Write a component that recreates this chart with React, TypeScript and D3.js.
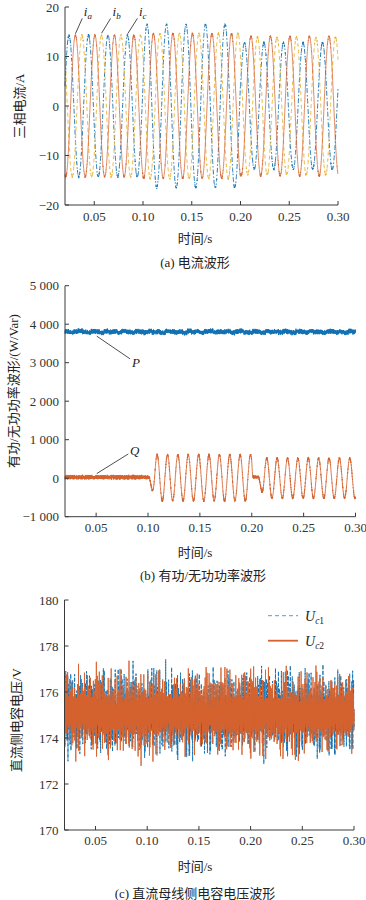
import React from "react";
import * as d3 from "d3";

// ---------- shared ----------
const T_START = 0.02;
const T_END = 0.3;
const X_TICKS = [0.05, 0.1, 0.15, 0.2, 0.25, 0.3];

// deterministic ripple tables (typed)
const RIPPLE_A = [0.42, -0.81, 0.13, 0.95, -0.37, -0.66, 0.58, 0.04, -0.92, 0.71, -0.18, 0.33, -0.55, 0.87, -0.02, -0.74, 0.49, 0.21, -0.63, 0.9, -0.29, 0.07, -0.97, 0.61, 0.36, -0.44, 0.15, -0.83, 0.76, -0.11, 0.52, -0.69, 0.28, 0.99, -0.51, 0.02, -0.24];
const RIPPLE_B = [-0.35, 0.78, -0.12, 0.56, -0.89, 0.23, 0.67, -0.48, 0.05, -0.71, 0.94, -0.26, 0.39, -0.58, 0.81, -0.07, -0.93, 0.47, 0.18, -0.64, 0.72, -0.31, 0.09, 0.86, -0.77, 0.25, -0.15, 0.63, -0.52, 0.98, -0.41, 0.11, -0.85, 0.54, 0.31, -0.68, 0.74, -0.03, -0.46, 0.89, -0.22, 0.16, -0.79, 0.61, -0.57, 0.37, 0.03, -0.95, 0.69, -0.19, 0.44, -0.62, 0.83];
const SPIKES = [0, 0, 0, 0, 1.2, 0, 0, 0, 0, 0, 0, -1.0, 0, 0, 0, 0, 0, 0, 0, 1.5, 0, 0, 0, 0, 0, -1.3, 0, 0, 0, 0, 0, 0, 0.8, 0, 0, 0, 0, 0, -0.7, 0, 0];

// ---------- (a) currents ----------
const I_TICKS = [-20, -10, 0, 10, 20];
const I_SEG = [0.02, 0.1, 0.2, 0.3];
const I_AMP_A = [14.3, 14.6, 14.1]; // i_a (orange, solid)
const I_AMP_B = [14.3, 14.7, 13.9]; // i_b (yellow, dashed)
const I_AMP_C = [14.3, 16.5, 12.8]; // i_c (blue, dash-dot)
const I_PEAK = [0.0307, 0.0374, 0.0241]; // time of first crest a,b,c
const GRID_HZ = 50;
const I_RIPPLE = 0.3;

// ---------- (b) P / Q ----------
const PQ_TICKS = [-1000, 0, 1000, 2000, 3000, 4000, 5000];
const P_LEVEL = 3800;
const P_RIPPLE = 75;
const P_WANDER = 25;
const Q_SEG = [0.02, 0.1, 0.2, 0.205, 0.3];
const Q_AMP = [0, 600, 0, 520];
const Q_PEAK = [0, 0.1088, 0, 0.2145];
const Q_RAMP = [0, 0.0075, 0, 0.007];
const Q_BIAS = [25, 10, 30, 0];
const Q_NOISE = [70, 40, 50, 40];
const Q_HZ = 100;

// ---------- (c) DC capacitor voltages ----------
const U_TICKS = [170, 172, 174, 176, 178, 180];
const U_LEVEL = 175;
const U_RIPPLE = 0.95;

const BLUE = "#1272b3";
const ORANGE = "#d5622f";
const YELLOW = "#e9b232";
const AXIS = "#3a3a3a";
const NUM_FONT = "'Times New Roman','Liberation Serif',serif";
const CJK_FONT = "'Times New Roman','Liberation Serif','Noto Sans CJK SC',serif";

const ripple = (i: number, k: number) =>
  0.55 * RIPPLE_A[(i + k) % RIPPLE_A.length] +
  0.45 * RIPPLE_B[(i * 3 + 2 * k) % RIPPLE_B.length];

const segOf = (bounds: number[], t: number) =>
  Math.max(0, Math.min(bounds.length - 2, d3.bisectRight(bounds, t) - 1));

const timesFine = d3.range(T_START, T_END + 1e-9, 0.0001);
const timesDense = d3.range(T_START, T_END + 1e-9, 0.00007);

function currentSeries(amps: number[], peak: number, k: number): [number, number][] {
  return timesFine.map((t, i) => {
    const s = segOf(I_SEG, t);
    return [t, amps[s] * Math.cos(2 * Math.PI * GRID_HZ * (t - peak)) + I_RIPPLE * ripple(i, k)];
  });
}

const iaData = currentSeries(I_AMP_A, I_PEAK[0], 3);
const ibData = currentSeries(I_AMP_B, I_PEAK[1], 17);
const icData = currentSeries(I_AMP_C, I_PEAK[2], 29);

const pData: [number, number][] = timesDense.map((t, i) => [
  t,
  P_LEVEL + P_RIPPLE * ripple(i, 5) + P_WANDER * RIPPLE_A[Math.floor(i / 60) % RIPPLE_A.length],
]);

const qData: [number, number][] = timesDense.map((t, i) => {
  const s = segOf(Q_SEG, t);
  const n = ripple(i, 13);
  let v: number;
  if (s === 0) v = Q_BIAS[0] + Q_NOISE[0] * n;
  else if (s === 1) {
    const env = Math.min(1, (t - Q_SEG[1]) / Q_RAMP[1]);
    v = env * Q_AMP[1] * Math.cos(2 * Math.PI * Q_HZ * (t - Q_PEAK[1])) + Q_BIAS[1] + Q_NOISE[1] * n;
  } else if (s === 2) {
    const fade = Math.max(0, 1 - (t - Q_SEG[2]) / 0.0015);
    v = fade * Q_AMP[1] * Math.cos(2 * Math.PI * Q_HZ * (t - Q_PEAK[1])) + (1 - fade) * (Q_BIAS[2] + Q_NOISE[2] * n);
  } else {
    const env = Math.min(1, (t - Q_SEG[3]) / Q_RAMP[3]);
    v = env * Q_AMP[3] * Math.cos(2 * Math.PI * Q_HZ * (t - Q_PEAK[3])) + Q_BIAS[3] + Q_NOISE[3] * n;
  }
  return [t, v];
});

const uSeries = (k: number): [number, number][] =>
  timesDense.map((t, i) => [t, U_LEVEL + U_RIPPLE * ripple(i, k) + SPIKES[(i * 2 + k) % SPIKES.length]]);
const uc1Data = uSeries(11);
const uc2Data = uSeries(0);

// ---------- helpers ----------
type Sc = d3.ScaleLinear<number, number>;

function Axes(props: {
  x: Sc;
  y: Sc;
  yTicks: number[];
  yFmt: (v: number) => string;
  tickLabelY: number;
}) {
  const { x, y, yTicks, yFmt, tickLabelY } = props;
  const [x0, x1] = x.range();
  const [yb, yt] = y.range();
  return (
    <g>
      <line x1={x0} x2={x0} y1={yt} y2={yb} stroke={AXIS} strokeWidth={1} />
      <line x1={x0} x2={x1} y1={yb} y2={yb} stroke={AXIS} strokeWidth={1} />
      {yTicks.map((v) => (
        <g key={"y" + v}>
          <line x1={x0} x2={x0 + 4} y1={y(v)} y2={y(v)} stroke={AXIS} />
          <text
            x={x0 - 6}
            y={y(v)}
            textAnchor="end"
            dominantBaseline="central"
            fontFamily={NUM_FONT}
            fontSize={13}
            fill="#333"
          >
            {yFmt(v)}
          </text>
        </g>
      ))}
      {X_TICKS.map((v) => (
        <g key={"x" + v}>
          <line x1={x(v)} x2={x(v)} y1={yb} y2={yb - 4} stroke={AXIS} />
          <text
            x={x(v)}
            y={tickLabelY}
            textAnchor="middle"
            dominantBaseline="central"
            fontFamily={NUM_FONT}
            fontSize={13}
            fill="#333"
          >
            {d3.format(".2f")(v)}
          </text>
        </g>
      ))}
    </g>
  );
}

function Label(props: { x: number; y: number; text: string; rotate?: boolean; size?: number }) {
  const { x, y, text, rotate, size } = props;
  return (
    <text
      x={x}
      y={y}
      transform={rotate ? `rotate(-90 ${x} ${y})` : undefined}
      textAnchor="middle"
      dominantBaseline="central"
      fontFamily={CJK_FONT}
      fontSize={size ?? 13}
      fill="#222"
    >
      {text}
    </text>
  );
}

const fmtMinus = (s: string) => s.replace("-", "\u2212");
const fmtPQ = (v: number) => fmtMinus(d3.format(",")(v).replace(",", " "));

// annotations (data coordinates)
const I_ANN = [
  { sub: "a", tip: [0.0307, 14.6], tail: [0.0377, 17.7], txt: [0.0393, 18.2] },
  { sub: "b", tip: [0.0575, 14.7], tail: [0.0668, 17.7], txt: [0.0688, 18.2] },
  { sub: "c", tip: [0.0843, 14.6], tail: [0.0943, 17.7], txt: [0.0958, 18.2] },
];
const P_ANN = { tip: [0.0506, 3690], tail: [0.0827, 3100], txt: [0.0845, 2900] };
const Q_ANN = { tip: [0.0506, 120], tail: [0.081, 630], txt: [0.0827, 590] };

export default function App() {
  // (a)
  const xa = d3.scaleLinear().domain([T_START, T_END]).range([65, 338]);
  const ya = d3.scaleLinear().domain([-20, 20]).range([205, 7]);
  const la = d3.line<[number, number]>().x((d) => xa(d[0])).y((d) => ya(d[1]));

  // (b)
  const xb = d3.scaleLinear().domain([T_START, T_END]).range([65, 355.5]);
  const yb = d3.scaleLinear().domain([-1000, 5000]).range([516.7, 285.7]);
  const lb = d3.line<[number, number]>().x((d) => xb(d[0])).y((d) => yb(d[1]));

  // (c)
  const xc = d3.scaleLinear().domain([T_START, T_END]).range([64.5, 354]);
  const yc = d3.scaleLinear().domain([170, 180]).range([830, 600]);
  const lc = d3.line<[number, number]>().x((d) => xc(d[0])).y((d) => yc(d[1]));

  return (
    <svg
      width={366}
      height={900}
      viewBox="0 0 366 900"
      style={{ position: "absolute", left: 0, top: 0, background: "#fff" }}
    >
      <rect width={366} height={900} fill="#fff" />

      {/* ---------- (a) ---------- */}
      <g>
        <path d={la(icData) ?? ""} fill="none" stroke={BLUE} strokeWidth={1} strokeDasharray="5 2 1.5 2" opacity={0.9} />
        <path d={la(ibData) ?? ""} fill="none" stroke={YELLOW} strokeWidth={1} strokeDasharray="4 3" opacity={0.9} />
        <path d={la(iaData) ?? ""} fill="none" stroke={ORANGE} strokeWidth={0.9} opacity={0.85} />
        <Axes x={xa} y={ya} yTicks={I_TICKS} yFmt={(v) => fmtMinus(String(v))} tickLabelY={216} />
        {I_ANN.map((a) => (
          <g key={a.sub}>
            <line x1={xa(a.tip[0])} y1={ya(a.tip[1])} x2={xa(a.tail[0])} y2={ya(a.tail[1])} stroke="#222" strokeWidth={0.8} />
            <text x={xa(a.txt[0])} y={ya(a.txt[1])} fontFamily={NUM_FONT} fontSize={13} fontStyle="italic" fill="#222">
              i
              <tspan fontSize={9} dy={3}>
                {a.sub}
              </tspan>
            </text>
          </g>
        ))}
        <Label x={19} y={106} text="三相电流/A" rotate />
        <Label x={195} y={238} text="时间/s" />
        <Label x={195} y={262} text="(a) 电流波形" />
      </g>

      {/* ---------- (b) ---------- */}
      <g>
        <path d={lb(pData) ?? ""} fill="none" stroke={BLUE} strokeWidth={0.9} />
        <path d={lb(qData) ?? ""} fill="none" stroke={ORANGE} strokeWidth={0.9} />
        <Axes x={xb} y={yb} yTicks={PQ_TICKS} yFmt={fmtPQ} tickLabelY={527} />
        <line x1={xb(P_ANN.tip[0])} y1={yb(P_ANN.tip[1])} x2={xb(P_ANN.tail[0])} y2={yb(P_ANN.tail[1])} stroke="#222" strokeWidth={0.8} />
        <text x={xb(P_ANN.txt[0])} y={yb(P_ANN.txt[1])} fontFamily={NUM_FONT} fontSize={13} fontStyle="italic" fill="#222">
          P
        </text>
        <line x1={xb(Q_ANN.tip[0])} y1={yb(Q_ANN.tip[1])} x2={xb(Q_ANN.tail[0])} y2={yb(Q_ANN.tail[1])} stroke="#222" strokeWidth={0.8} />
        <text x={xb(Q_ANN.txt[0])} y={yb(Q_ANN.txt[1])} fontFamily={NUM_FONT} fontSize={13} fontStyle="italic" fill="#222">
          Q
        </text>
        <Label x={13} y={391} text="有功/无功功率波形/(W/Var)" rotate />
        <Label x={195} y={552} text="时间/s" />
        <Label x={203} y={575} text="(b) 有功/无功功率波形" />
      </g>

      {/* ---------- (c) ---------- */}
      <g>
        <path d={lc(uc1Data) ?? ""} fill="none" stroke={BLUE} strokeWidth={0.9} strokeDasharray="4 1.5" />
        <path d={lc(uc2Data) ?? ""} fill="none" stroke={ORANGE} strokeWidth={0.9} />
        <Axes x={xc} y={yc} yTicks={U_TICKS} yFmt={(v) => String(v)} tickLabelY={840} />
        <line x1={268} x2={298} y1={615.7} y2={615.7} stroke={BLUE} strokeWidth={1} strokeDasharray="4 3" opacity={0.7} />
        <text x={305} y={621} fontFamily={NUM_FONT} fontSize={14} fontStyle="italic" fill="#222">
          U
          <tspan fontSize={9.5} dy={3}>c</tspan>
          <tspan fontSize={9.5} fontStyle="normal">1</tspan>
        </text>
        <line x1={268} x2={298} y1={640.7} y2={640.7} stroke={ORANGE} strokeWidth={1.8} />
        <text x={305} y={646} fontFamily={NUM_FONT} fontSize={14} fontStyle="italic" fill="#222">
          U
          <tspan fontSize={9.5} dy={3}>c</tspan>
          <tspan fontSize={9.5} fontStyle="normal">2</tspan>
        </text>
        <Label x={16} y={720} text="直流侧电容电压/V" rotate />
        <Label x={195} y={866} text="时间/s" />
        <Label x={195} y={893} text="(c) 直流母线侧电容电压波形" />
      </g>
    </svg>
  );
}
